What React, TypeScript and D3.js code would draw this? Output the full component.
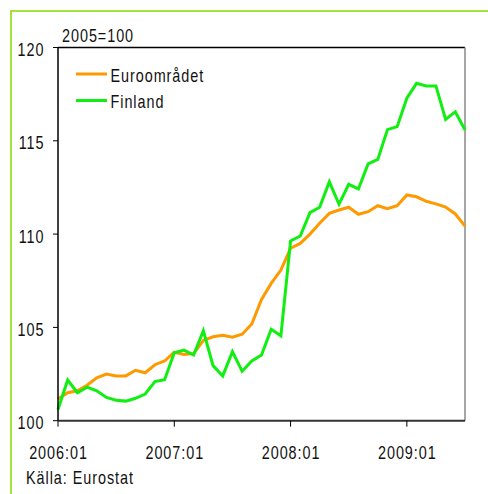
import React from "react";
import * as d3 from "d3";

const months: string[] = (() => {
  const out: string[] = [];
  for (let y = 2006; y <= 2009; y++) {
    for (let m = 1; m <= 12; m++) {
      if (y === 2009 && m > 7) break;
      out.push(`${y}:${String(m).padStart(2, "0")}`);
    }
  }
  return out;
})();

const euroArea: number[] = [
  101.16, 101.5, 101.6, 101.9, 102.3, 102.5, 102.4, 102.4, 102.7, 102.57,
  103.0, 103.2, 103.67, 103.55, 103.6, 104.3, 104.5, 104.58, 104.47, 104.63,
  105.18, 106.5, 107.36, 108.07, 109.24, 109.5, 110.0, 110.58, 111.11, 111.29,
  111.44, 111.06, 111.2, 111.52, 111.36, 111.52, 112.1, 112.0, 111.76, 111.62,
  111.45, 111.08, 110.43,
];

const finland: number[] = [
  100.6, 102.18, 101.5, 101.8, 101.6, 101.25, 101.1, 101.05, 101.2, 101.43,
  102.1, 102.2, 103.64, 103.78, 103.52, 104.82, 102.95, 102.4, 103.7, 102.65,
  103.2, 103.52, 104.9, 104.55, 109.63, 109.9, 111.15, 111.44, 112.8, 111.6,
  112.67, 112.42, 113.76, 114.0, 115.6, 115.76, 117.28, 118.08, 117.94, 117.94,
  116.15, 116.56, 115.58,
];

const yTicks: number[] = [100, 105, 110, 115, 120];
const xTickLabels: string[] = ["2006:01", "2007:01", "2008:01", "2009:01"];
const seriesNames: string[] = ["Euroområdet", "Finland"];
const seriesColors: string[] = ["#FF9900", "#11EE11"];

const FONT = "'Liberation Sans', Arial, sans-serif";
const SX = 0.8;
const LS = 1.2;

function T({
  x,
  y,
  anchor = "start",
  children,
}: {
  x: number;
  y: number;
  anchor?: "start" | "middle" | "end";
  children: React.ReactNode;
}) {
  return (
    <text
      transform={`translate(${x},${y}) scale(${SX},1)`}
      textAnchor={anchor}
      fontSize={18}
      fill="#111"
      letterSpacing={LS}
    >
      {children}
    </text>
  );
}

export default function App() {
  const left = 58, right = 465, top = 47.5, bottom = 420.7;
  const x = d3.scaleLinear().domain([0, months.length - 1]).range([left, right]);
  const y = d3.scaleLinear().domain([100, 120]).range([bottom, top]);
  const line = d3
    .line<number>()
    .x((_, i) => x(i))
    .y((d) => y(d));
  const series = [euroArea, finland];

  return (
    <svg
      width={488}
      height={494}
      style={{ position: "absolute", left: 0, top: 0, background: "#fff" }}
      fontFamily={FONT}
    >
      <rect x={0} y={0} width={488} height={494} fill="#fff" />
      <line x1={11} y1={11} x2={11} y2={494} stroke="#A6E23A" strokeWidth={2} />
      <line x1={10} y1={11} x2={488} y2={11} stroke="#A6E23A" strokeWidth={2} />

      <line x1={left} y1={top} x2={right} y2={top} stroke="#000" strokeWidth={1.5} />
      <line x1={right} y1={top} x2={right} y2={bottom} stroke="#888" strokeWidth={1.5} />

      {series.map((s, k) => (
        <path
          key={k}
          d={line(s) || ""}
          fill="none"
          stroke={seriesColors[k]}
          strokeWidth={3}
          strokeLinejoin="miter"
        />
      ))}

      <line x1={left} y1={top} x2={left} y2={bottom} stroke="#000" strokeWidth={1.5} />
      <line x1={left} y1={bottom} x2={right} y2={bottom} stroke="#333" strokeWidth={2} />

      {yTicks.map((t) => (
        <g key={t}>
          <line x1={left - 5} x2={left} y1={y(t)} y2={y(t)} stroke="#000" strokeWidth={1} />
          <T x={44.5} y={y(t) + 8.5} anchor="end">
            {t}
          </T>
        </g>
      ))}

      {xTickLabels.map((lab) => {
        const i = months.indexOf(lab);
        const xx = x(i);
        return (
          <g key={lab}>
            <line x1={xx} x2={xx} y1={bottom} y2={bottom + 6} stroke="#000" strokeWidth={1} />
            <T x={xx + 0.5} y={459} anchor="middle">
              {lab}
            </T>
          </g>
        );
      })}

      <T x={62} y={41.7}>2005=100</T>
      <T x={26} y={483.5}>Källa: Eurostat</T>

      {seriesNames.map((n, k) => (
        <g key={n}>
          <line
            x1={76}
            x2={107}
            y1={74 + k * 26.5}
            y2={74 + k * 26.5}
            stroke={seriesColors[k]}
            strokeWidth={3}
          />
          <T x={110.5} y={81.5 + k * 26.5}>
            {n}
          </T>
        </g>
      ))}
    </svg>
  );
}
